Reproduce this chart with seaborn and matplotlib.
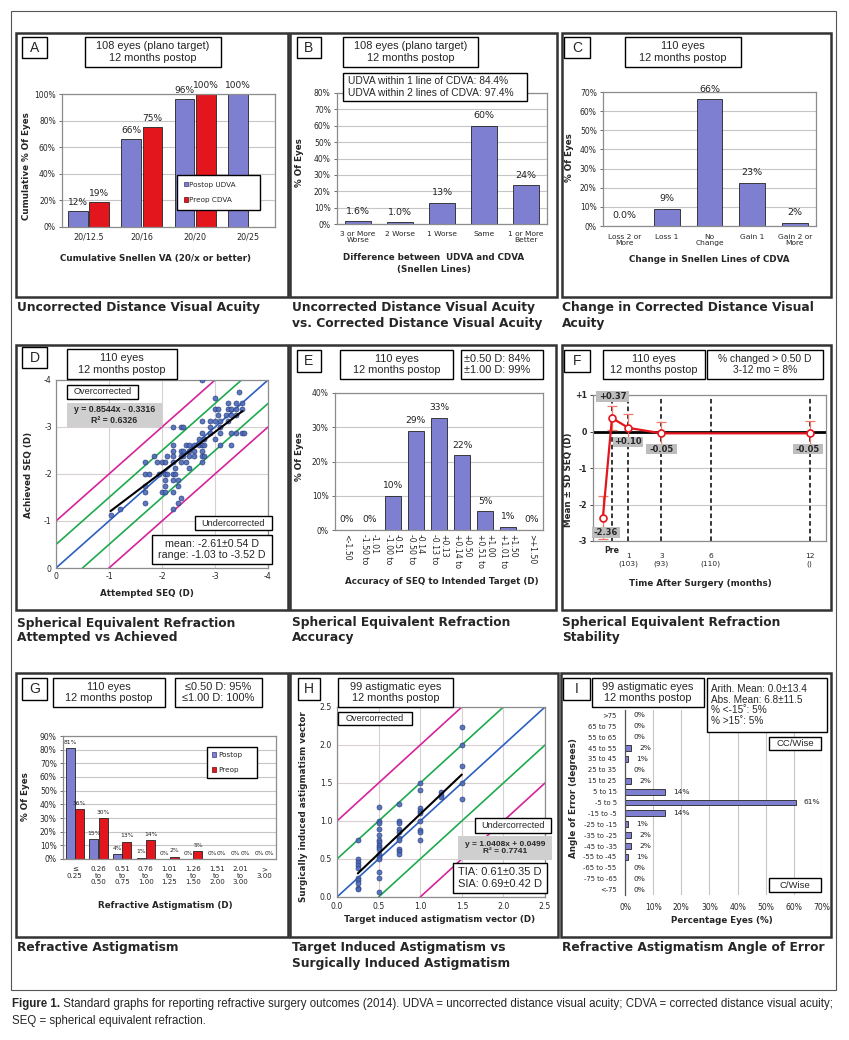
import matplotlib
matplotlib.use("Agg")
import matplotlib.pyplot as plt
import seaborn as sns
import numpy as np
import pandas as pd
from matplotlib.patches import Rectangle, Patch

# ---------------- data ----------------
a_cats = ["20/12.5", "20/16", "20/20", "20/25"]
a_udva = [12, 66, 96, 100]
a_cdva = [19, 75, 100, np.nan]
a_series = ["Postop UDVA", "Preop CDVA"]

b_cats = ["3 or More\nWorse", "2 Worse", "1 Worse", "Same", "1 or More\nBetter"]
b_vals = [1.6, 1.0, 12.8, 60.0, 23.6]
b_labels = ["1.6%", "1.0%", "13%", "60%", "24%"]

c_cats = ["Loss 2 or\nMore", "Loss 1", "No\nChange", "Gain 1", "Gain 2 or\nMore"]
c_vals = [0.0, 8.9, 66.3, 22.7, 1.7]
c_labels = ["0.0%", "9%", "66%", "23%", "2%"]

d_att = [-2.75,
         -3.45,
         -3.0,
         -3.25, -3.4, -3.5,
         -3.0, -3.05, -3.25, -3.3, -3.4, -3.5,
         -3.05, -3.2, -3.3, -3.4,
         -2.75, -2.9, -3.0, -3.1, -3.25,
         -2.2, -2.35, -2.4, -2.9, -3.1,
         -2.75, -2.9, -3.1, -3.3, -3.4, -3.5, -3.55,
         -2.7, -2.8, -3.0,
         -2.2, -2.45, -2.5, -2.6, -2.7, -2.75, -2.8, -3.1, -3.3,
         -2.2, -2.35, -2.4, -2.5, -2.6, -2.75,
         -1.85, -2.1, -2.2, -2.35, -2.4, -2.5, -2.6, -2.75, -2.8,
         -1.68, -1.9, -2.0, -2.05, -2.2, -2.35, -2.45, -2.75,
         -2.25, -2.5,
         -1.68, -1.75, -1.95, -2.05, -2.1, -2.2, -2.25,
         -2.05, -2.2, -2.3,
         -1.68, -2.05, -2.3,
         -1.68, -2.0, -2.05, -2.2,
         -2.35,
         -1.68, -2.3,
         -2.2, -1.2,
         -1.03]
d_ach = [-4.0,
         -3.75,
         -3.625,
         -3.5, -3.5, -3.5,
         -3.375, -3.375, -3.375, -3.375, -3.375, -3.375,
         -3.25, -3.25, -3.25, -3.25,
         -3.125, -3.125, -3.125, -3.125, -3.125,
         -3.0, -3.0, -3.0, -3.0, -3.0,
         -2.875, -2.875, -2.875, -2.875, -2.875, -2.875, -2.875,
         -2.75, -2.75, -2.75,
         -2.625, -2.625, -2.625, -2.625, -2.625, -2.625, -2.625, -2.625, -2.625,
         -2.5, -2.5, -2.5, -2.5, -2.5, -2.5,
         -2.375, -2.375, -2.375, -2.375, -2.375, -2.375, -2.375, -2.375, -2.375,
         -2.25, -2.25, -2.25, -2.25, -2.25, -2.25, -2.25, -2.25,
         -2.125, -2.125,
         -2.0, -2.0, -2.0, -2.0, -2.0, -2.0, -2.0,
         -1.875, -1.875, -1.875,
         -1.75, -1.75, -1.75,
         -1.625, -1.625, -1.625, -1.625,
         -1.5,
         -1.375, -1.375,
         -1.25, -1.25,
         -1.125]
d_fit = (0.8544, -0.3316)
d_fit_x = [-1.03, -3.52]
ref_offsets = [-1.0, -0.5, 0.0, 0.5, 1.0]

e_cats = ["<-1.50", "-1.50 to\n-1.01", "-1.00 to\n-0.51", "-0.50 to\n-0.14", "-0.13 to\n+0.13",
          "+0.14 to\n+0.50", "+0.51 to\n+1.00", "+1.01 to\n+1.50", ">+1.50"]
e_vals = [0, 0, 10.0, 29.0, 32.7, 21.8, 5.5, 0.9, 0]
e_labels = ["0%", "0%", "10%", "29%", "33%", "22%", "5%", "1%", "0%"]

f_x = [-0.55, 0, 1, 3, 12]
f_mean = [-2.36, 0.37, 0.10, -0.05, -0.05]
f_sd = [0.58, 0.33, 0.38, 0.31, 0.35]
f_tick_pos = [0, 1, 3, 6, 12]
f_tick_labels = ["Pre", "1\n(103)", "3\n(93)", "6\n(110)", "12\n()"]

g_cats = ["\u2264\n0.25", "0.26\nto\n0.50", "0.51\nto\n0.75", "0.76\nto\n1.00", "1.01\nto\n1.25",
          "1.26\nto\n1.50", "1.51\nto\n2.00", "2.01\nto\n3.00", ">\n3.00"]
g_postop = [81, 14.5, 3.6, 0.9, 0, 0, 0, 0, 0]
g_preop = [36.4, 30, 12.7, 13.6, 1.8, 5.5, 0, 0, 0]
g_postop_labels = ["81%", "15%", "4%", "1%", "0%", "0%", "0%", "0%", "0%"]
g_preop_labels = ["36%", "30%", "13%", "14%", "2%", "5%", "0%", "0%", "0%"]
g_series = ["Postop", "Preop"]

h_x = [0.25] * 10 + [0.5] * 16 + [0.75] * 10 + [1.0] * 9 + [1.25] * 3 + [1.5] * 5
h_y = [0.75, 0.5, 0.46, 0.42, 0.38, 0.25, 0.22, 0.18, 0.12, 0.1,
       1.19, 1.0, 0.98, 0.89, 0.81, 0.75, 0.72, 0.69, 0.66, 0.63, 0.57, 0.53, 0.5, 0.33, 0.25, 0.07,
       1.23, 1.0, 0.97, 0.9, 0.86, 0.78, 0.75, 0.63, 0.6, 0.56,
       1.5, 1.41, 1.17, 1.13, 1.1, 1.0, 0.88, 0.85, 0.75,
       1.38, 1.34, 1.31,
       2.24, 2.0, 1.72, 1.5, 1.29]
h_fit = (1.0408, 0.0499)
h_fit_x = [0.25, 1.5]

i_cats = [">75", "65 to 75", "55 to 65", "45 to 55", "35 to 45", "25 to 35", "15 to 25", "5 to 15",
          "-5 to 5", "-15 to -5", "-25 to -15", "-35 to -25", "-45 to -35", "-55 to -45",
          "-65 to -55", "-75 to -65", "<-75"]
i_vals = [0, 0, 0, 2.0, 1.0, 0, 2.0, 14.2, 60.6, 14.2, 1.0, 2.0, 2.0, 1.0, 0, 0, 0]

# ---------------- style ----------------
sns.set_style("white")
plt.rcParams["font.family"] = ["DejaVu Sans"]
plt.rcParams["axes.unicode_minus"] = False

ARIAL = ["Liberation Sans", "DejaVu Sans"]
BLUE = "#7F7FD2"
BLUE_EDGE = "#3b3b78"
RED = "#E3161E"
RED_EDGE = "#6b0a0a"
GRID = "#c6c6c6"
PT = "#4b69b5"
MAG = "#D6239B"
GRN = "#1DAA4E"
LBLUE = "#2B5FC1"
ref_colors = [MAG, GRN, LBLUE, GRN, MAG]
BAR_KW = dict(errorbar=None, saturation=1, edgecolor="#222222", linewidth=0.6)

W, H = 849, 1040
fig = plt.figure(figsize=(W / 100, H / 100), dpi=100)


def mkax(r):
    x0, y0, x1, y1 = r
    return fig.add_axes([x0 / W, 1 - y1 / H, (x1 - x0) / W, (y1 - y0) / H])


def frame(ax, color="#8c8c8c", lw=0.9):
    for s in ax.spines.values():
        s.set_visible(True)
        s.set_color(color)
        s.set_linewidth(lw)


def bar_axes(ax, ymax, step, fs=5.5):
    ax.set_ylim(0, ymax)
    ax.set_yticks(np.arange(0, ymax + 0.01, step))
    ax.yaxis.set_major_formatter(lambda v, p: f"{v:.0f}%")
    ax.grid(axis="y", color=GRID, lw=0.8)
    ax.grid(axis="x", visible=False)
    ax.set_axisbelow(True)
    frame(ax)
    ax.tick_params(axis="y", labelsize=fs, length=2.5, width=0.6, pad=2, left=True, color="#555555")
    ax.tick_params(axis="x", length=0)


def xlab(ax, r, text, yc, xc=None, fs=6.3):
    x0, y0, x1, y1 = r
    if xc is None:
        xc = (x0 + x1) / 2
    ax.set_xlabel(text, fontsize=fs, fontweight="bold", linespacing=1.3)
    ax.xaxis.label.set_va("center")
    ax.xaxis.set_label_coords((xc - x0) / (x1 - x0), (y1 - yc) / (y1 - y0))


def ylab(ax, r, text, xc, yc=None, fs=6.3):
    x0, y0, x1, y1 = r
    if yc is None:
        yc = (y0 + y1) / 2
    ax.set_ylabel(text, fontsize=fs, fontweight="bold")
    ax.yaxis.label.set_va("center")
    ax.yaxis.set_label_coords((xc - x0) / (x1 - x0), (y1 - yc) / (y1 - y0))


# ================= Panel A =================
rA = (62, 94, 275, 227)
ax = mkax(rA)
df_a = pd.DataFrame({"cat": a_cats * 2,
                     "series": [a_series[0]] * 4 + [a_series[1]] * 4,
                     "val": a_udva + a_cdva}).dropna()
sns.barplot(data=df_a, x="cat", y="val", hue="series", order=a_cats, hue_order=a_series,
            palette=[BLUE, RED], width=0.8, gap=0.08, legend=False, ax=ax, **BAR_KW)
bar_axes(ax, 100, 20)
for cont in ax.containers:
    ax.bar_label(cont, fmt="%.0f%%", padding=3, fontsize=6.5, color="#222222")
ax.set_xticks(range(len(a_cats)), labels=a_cats, fontsize=5.8)
ax.tick_params(axis="x", pad=4)
xlab(ax, rA, "Cumulative Snellen VA (20/x or better)", 259, xc=156)
ylab(ax, rA, "Cumulative % Of Eyes", 26, 166)
leg = ax.legend(handles=[Patch(fc=BLUE, ec=BLUE_EDGE, lw=0.5), Patch(fc=RED, ec=RED_EDGE, lw=0.5)],
                labels=a_series, loc="upper left", bbox_to_anchor=(0.54, 0.13, 0.39, 0.26),
                mode="expand", fontsize=5.2, frameon=True, fancybox=False, edgecolor="black",
                framealpha=1, handlelength=0.6, handleheight=0.6, handletextpad=0.2,
                labelspacing=1.3, borderpad=0.9, borderaxespad=0)
leg.get_frame().set_linewidth(1.0)

# ================= Panel B =================
rB = (337, 93, 547, 224)
ax = mkax(rB)
sns.barplot(x=b_cats, y=b_vals, color=BLUE, width=0.62, ax=ax, **BAR_KW)
bar_axes(ax, 80, 10)
ax.bar_label(ax.containers[0], labels=b_labels, padding=4, fontsize=6.8, color="#222222")
ax.set_xticks(range(len(b_cats)), labels=b_cats, fontsize=5.4, linespacing=1.1)
ax.tick_params(axis="x", pad=5)
xlab(ax, rB, "Difference between  UDVA and CDVA\n(Snellen Lines)", 263.5, xc=434)
ylab(ax, rB, "% Of Eyes", 300, 163)

# ================= Panel C =================
rC = (603, 92, 816, 226)
ax = mkax(rC)
sns.barplot(x=c_cats, y=c_vals, color=BLUE, width=0.61, ax=ax, **BAR_KW)
bar_axes(ax, 70, 10)
ax.bar_label(ax.containers[0], labels=c_labels, padding=4, fontsize=6.8, color="#222222")
ax.set_xticks(range(len(c_cats)), labels=c_cats, fontsize=5.4, linespacing=1.1)
ax.tick_params(axis="x", pad=5.5)
xlab(ax, rC, "Change in Snellen Lines of CDVA", 260, xc=709)
ylab(ax, rC, "% Of Eyes", 570, 158)

# ================= Panel D =================
rD = (56, 380, 268, 568)
ax = mkax(rD)
ax.set_xlim(0, -4)
ax.set_ylim(0, -4)
for off, col in zip(ref_offsets, ref_colors):
    ax.axline((0, off), slope=1, color=col, lw=1.2, zorder=2)
sns.scatterplot(x=d_att, y=d_ach, s=13, color=PT, edgecolor="#2a3f80", linewidth=0.5,
                alpha=0.9, zorder=3, legend=False, ax=ax)
d_fit_y = [d_fit[0] * v + d_fit[1] for v in d_fit_x]
sns.lineplot(x=d_fit_x, y=d_fit_y, color="black", lw=1.5, zorder=4, ax=ax)
ax.set_xlim(0, -4)
ax.set_ylim(0, -4)
ax.set_xticks([0, -1, -2, -3, -4])
ax.set_yticks([0, -1, -2, -3, -4])
ax.xaxis.set_major_formatter(lambda v, p: f"{v:.0f}")
ax.yaxis.set_major_formatter(lambda v, p: f"{v:.0f}")
ax.grid(True, color="#d8d0d0", lw=0.8)
ax.set_axisbelow(True)
frame(ax)
ax.tick_params(labelsize=5.6, length=0, pad=3)
xlab(ax, rD, "Attempted SEQ (D)", 593, xc=147)
ylab(ax, rD, "Achieved SEQ (D)", 29, 475)

# ================= Panel E =================
rE = (335, 393, 543, 530)
ax = mkax(rE)
sns.barplot(x=e_cats, y=e_vals, color=BLUE, width=0.69, ax=ax, **BAR_KW)
bar_axes(ax, 40, 10)
ax.bar_label(ax.containers[0], labels=e_labels, padding=4, fontsize=6.6, color="#222222")
ax.set_xticks(range(len(e_cats)),
              labels=["\n".join(c.split("\n")[::-1]) for c in e_cats],
              rotation=-90, fontsize=5.6, linespacing=1.05, ha="center", va="top")
for t in ax.get_xticklabels():
    t.set_multialignment("left")
ax.tick_params(axis="x", pad=3)
xlab(ax, rE, "Accuracy of SEQ to Intended Target (D)", 582, xc=442)
ylab(ax, rE, "% Of Eyes", 299, 457)

# ================= Panel F =================
rF = (593, 395, 826, 541)
ax = mkax(rF)
ax.set_xlim(-1.15, 13.0)
ax.set_ylim(-3, 1)
for xv in f_tick_pos:
    ax.axvline(xv, color="black", lw=1.1, ls=(0, (3, 2)), zorder=1)
ax.axhline(0, color="black", lw=2.0, zorder=2)
ax.errorbar(f_x, f_mean, yerr=f_sd, fmt="none", ecolor="#F07A6A", elinewidth=0.9,
            capsize=3.5, capthick=0.9, zorder=3)
sns.lineplot(x=f_x, y=f_mean, color=RED, lw=1.6, marker="o", markersize=5,
             markerfacecolor="white", markeredgecolor=RED, markeredgewidth=1.2, zorder=4, ax=ax)
ax.set_xlim(-1.15, 13.0)
ax.set_ylim(-3, 1)
ax.set_yticks([-3, -2, -1, 0, 1])
ax.set_yticklabels(["-3", "-2", "-1", "0", "+1"], fontweight="bold")
ax.grid(axis="y", color=GRID, lw=0.8)
ax.grid(axis="x", visible=False)
ax.set_axisbelow(True)
frame(ax)
ax.tick_params(axis="y", labelsize=5.6, length=2.5, width=0.6, left=True, pad=2)
ax.set_xticks(f_tick_pos[1:], labels=f_tick_labels[1:], fontsize=5.4, linespacing=1.2)
ax.tick_params(axis="x", length=0, pad=9)
ax.text(f_tick_pos[0], -0.035, f_tick_labels[0], transform=ax.get_xaxis_transform(),
        ha="center", va="top", fontsize=5.6, fontweight="bold")
xlab(ax, rF, "Time After Surgery (months)", 584, xc=700)
ylab(ax, rF, "Mean \u00b1 SD SEQ (D)", 569, 480)

# ================= Panel G =================
rG = (63, 736, 276, 859)
ax = mkax(rG)
df_g = pd.DataFrame({"cat": g_cats * 2,
                     "series": [g_series[0]] * len(g_cats) + [g_series[1]] * len(g_cats),
                     "val": g_postop + g_preop})
sns.barplot(data=df_g, x="cat", y="val", hue="series", order=g_cats, hue_order=g_series,
            palette=[BLUE, RED], width=0.8, gap=0.06, legend=False, ax=ax, **BAR_KW)
bar_axes(ax, 90, 10)
for cont, labs in zip(ax.containers, [g_postop_labels, g_preop_labels]):
    texts = ax.bar_label(cont, labels=labs, padding=2.5, fontsize=4.3, color="#222222")
    for t in texts:
        t.set_clip_on(True)
ax.set_xticks(range(len(g_cats)), labels=g_cats, fontsize=5.1, linespacing=1.15)
ax.tick_params(axis="x", pad=5)
xlab(ax, rG, "Refractive Astigmatism (D)", 905, xc=165)
ylab(ax, rG, "% Of Eyes", 26, 797)
leg = ax.legend(handles=[Patch(fc=BLUE, ec=BLUE_EDGE, lw=0.5), Patch(fc=RED, ec=RED_EDGE, lw=0.5)],
                labels=g_series, loc="upper left", bbox_to_anchor=(0.676, 0.66, 0.235, 0.25),
                mode="expand", fontsize=5.2, frameon=True, fancybox=False, edgecolor="black",
                framealpha=1, handlelength=0.6, handleheight=0.6, handletextpad=0.2,
                labelspacing=1.2, borderpad=0.7, borderaxespad=0)
leg.get_frame().set_linewidth(1.0)

# ================= Panel H =================
rH = (337, 707, 545, 897)
ax = mkax(rH)
ax.set_xlim(0, 2.5)
ax.set_ylim(0, 2.5)
for off, col in zip(ref_offsets, ref_colors[::-1]):
    ax.axline((0, off), slope=1, color=col, lw=1.2, zorder=2)
sns.scatterplot(x=h_x, y=h_y, s=13, color=PT, edgecolor="#2a3f80", linewidth=0.5,
                alpha=0.9, zorder=3, legend=False, ax=ax)
h_fit_y = [h_fit[0] * v + h_fit[1] for v in h_fit_x]
sns.lineplot(x=h_fit_x, y=h_fit_y, color="black", lw=1.5, zorder=4, ax=ax)
ax.set_xlim(0, 2.5)
ax.set_ylim(0, 2.5)
ax.set_xticks(np.arange(0, 2.51, 0.5))
ax.set_yticks(np.arange(0, 2.51, 0.5))
ax.xaxis.set_major_formatter(lambda v, p: f"{v:.1f}")
ax.yaxis.set_major_formatter(lambda v, p: f"{v:.1f}")
ax.grid(True, color="#d8d0d0", lw=0.8)
ax.set_axisbelow(True)
frame(ax)
ax.tick_params(labelsize=5.6, length=0, pad=3.5)
xlab(ax, rH, "Target induced astigmatism vector (D)", 920, xc=440)
ylab(ax, rH, "Surgically induced astigmatism vector", 304, 807)

# ================= Panel I =================
rI = (625, 710, 822, 895)
ax = mkax(rI)
sns.barplot(x=i_vals, y=i_cats, orient="h", color=BLUE, width=0.55, ax=ax, **BAR_KW)
ax.set_xlim(0, 70)
ax.set_xticks(np.arange(0, 70.1, 10))
ax.xaxis.set_major_formatter(lambda v, p: f"{v:.0f}%")
ax.grid(axis="x", color=GRID, lw=0.8)
ax.grid(axis="y", visible=False)
ax.set_axisbelow(True)
for s in ax.spines.values():
    s.set_visible(False)
ax.spines["left"].set_visible(True)
ax.spines["left"].set_color("#555555")
ax.spines["left"].set_linewidth(0.9)
ax.bar_label(ax.containers[0], fmt="%.0f%%", padding=6, fontsize=5.4, color="#222222")
ax.tick_params(axis="y", labelsize=4.9, length=0, pad=6)
ax.tick_params(axis="x", labelsize=5.5, length=0, pad=6)
xlab(ax, rI, "Percentage Eyes (%)", 920, xc=722)
ylab(ax, rI, "Angle of Error (degrees)", 573, 798)

# ================= overlay (boxes, titles, caption) =================
ov = fig.add_axes([0, 0, 1, 1], zorder=10)
ov.set_xlim(0, W)
ov.set_ylim(H, 0)
ov.axis("off")
ov.patch.set_alpha(0)


def box(x0, y0, x1, y1, fc="white", ec="black", lw=1.0):
    ov.add_patch(Rectangle((x0, y0), x1 - x0, y1 - y0, fc=fc, ec=ec, lw=lw))


def btext(r, s, fs=8.0, weight="normal", fc="white", ec="black", lw=1.0, ha="center",
          family=ARIAL, ls=1.15, pad=4):
    x0, y0, x1, y1 = r
    if fc is not None or ec is not None:
        box(x0, y0, x1, y1, fc=fc if fc else "none", ec=ec if ec else "none", lw=lw)
    x = (x0 + x1) / 2 if ha == "center" else x0 + pad
    ov.text(x, (y0 + y1) / 2, s, ha=ha, va="center", fontsize=fs, fontweight=weight,
            family=family, linespacing=ls, multialignment=ha)


# outer frame
box(11, 11, 836, 990, fc="none", ec="#555555", lw=0.8)

# panel frames
for r in [(16, 33, 288, 297), (290, 33, 557, 297), (562, 33, 831, 297),
          (16, 345, 288, 610), (290, 345, 556, 610), (562, 345, 831, 610),
          (16, 673, 288, 937), (290, 673, 558, 937), (561, 673, 831, 937)]:
    box(*r, fc="none", ec="#333333", lw=1.8)

# letter boxes
for r, s in [((22, 37, 47, 58), "A"), ((297, 37, 321, 58), "B"), ((564, 37, 590, 58), "C"),
             ((22, 347, 47, 368), "D"), ((297, 350, 321, 372), "E"), ((564, 350, 590, 372), "F"),
             ((22, 678, 47, 700), "G"), ((298, 678, 320, 700), "H"), ((563, 678, 590, 700), "I")]:
    btext(r, s, fs=10)

hdr108 = "108 eyes (plano target)\n12 months postop"
hdr110 = "110 eyes\n12 months postop"
hdr99 = "99 astigmatic eyes\n12 months postop"
for r, s in [((85, 37, 221, 67), hdr108), ((343, 37, 478, 67), hdr108), ((625, 37, 741, 67), hdr110),
             ((67, 349, 177, 379), hdr110), ((340, 350, 453, 379), hdr110), ((603, 350, 705, 379), hdr110),
             ((53, 678, 165, 707), hdr110), ((338, 678, 453, 707), hdr99), ((592, 678, 704, 707), hdr99)]:
    btext(r, s, fs=7.9)

# stats boxes
btext((343, 73, 527, 101), "UDVA within 1 line of CDVA: 84.4%\nUDVA within 2 lines of CDVA: 97.4%",
      fs=7.4, ha="left", pad=5)
btext((461, 350, 543, 379), "\u00b10.50 D: 84%\n\u00b11.00 D: 99%", fs=7.9, ha="left", pad=3)
btext((707, 350, 823, 379), "% changed > 0.50 D\n3-12 mo = 8%", fs=7.4)
btext((175, 678, 262, 707), "\u22640.50 D: 95%\n\u22641.00 D: 100%", fs=7.9)
btext((707, 678, 827, 732), "Arith. Mean: 0.0\u00b113.4\nAbs. Mean: 6.8\u00b111.5\n% <-15\u02da: 5%\n% >15\u02da: 5%",
      fs=7.2, ha="left", pad=4, ls=1.1)

# D annotations
btext((67, 385, 138, 399), "Overcorrected", fs=6.6)
btext((67, 403, 162, 427), "y = 0.8544x - 0.3316\nR\u00b2 = 0.6326", fs=6.3, weight="bold",
      fc="#cfcfcf", ec=None)
btext((195, 516, 272, 530), "Undercorrected", fs=6.6)
btext((152, 535, 272, 564), "mean: -2.61\u00b10.54 D\nrange: -1.03 to -3.52 D", fs=7.7)

# H annotations
btext((338, 712, 412, 725), "Overcorrected", fs=6.6)
btext((475, 818, 551, 833), "Undercorrected", fs=6.6)
btext((458, 836, 552, 860), "y = 1.0408x + 0.0499\nR\u00b2 = 0.7741", fs=6.0, weight="bold",
      fc="#cfcfcf", ec=None)
btext((453, 863, 547, 893), "TIA: 0.61\u00b10.35 D\nSIA: 0.69\u00b10.42 D", fs=8.0)

# I annotations
btext((769, 737, 821, 750), "CC/Wise", fs=6.8)
btext((769, 878, 821, 892), "C/Wise", fs=6.8)

# F value labels
for r, v in zip([(592, 527, 620, 538), (596, 391, 629, 402), (613, 437, 643, 447),
                 (646, 444, 677, 454), (793, 444, 823, 454)], f_mean):
    btext(r, f"{v:+.2f}", fs=6.0, weight="bold", fc="#bdbdbd", ec=None, family=["DejaVu Sans"])

# panel titles
TF = dict(fontsize=8.8, fontweight="bold", va="center", ha="left", linespacing=1.2)
for x, y, s in [(17, 308, "Uncorrected Distance Visual Acuity"),
                (292, 315.5, "Uncorrected Distance Visual Acuity\nvs. Corrected Distance Visual Acuity"),
                (562, 315.5, "Change in Corrected Distance Visual\nAcuity"),
                (17, 630.5, "Spherical Equivalent Refraction\nAttempted vs Achieved"),
                (292, 630, "Spherical Equivalent Refraction\nAccuracy"),
                (562, 630, "Spherical Equivalent Refraction\nStability"),
                (17, 948, "Refractive Astigmatism"),
                (292, 955.5, "Target Induced Astigmatism vs\nSurgically Induced Astigmatism"),
                (562, 948, "Refractive Astigmatism Angle of Error")]:
    ov.text(x, y, s, **TF)

# caption
CAP = ["Liberation Sans Narrow", "Liberation Sans", "DejaVu Sans"]
t1 = ov.text(12, 1004, "Figure 1.", fontsize=8, fontweight="bold", family=CAP, va="center", ha="left")
t2 = ov.text(60, 1004, " Standard graphs for reporting refractive surgery outcomes (2014). UDVA = uncorrected "
             "distance visual acuity; CDVA = corrected distance visual acuity;",
             fontsize=8, family=CAP, va="center", ha="left")
t3 = ov.text(12, 1021, "SEQ = spherical equivalent refraction.", fontsize=8, family=CAP,
             va="center", ha="left")
fig.canvas.draw()
rend = fig.canvas.get_renderer()
wtot = t1.get_window_extent(rend).width + t2.get_window_extent(rend).width
scale = 826.0 / wtot
for t in (t1, t2, t3):
    t.set_fontsize(8 * scale)
fig.canvas.draw()
t2.set_x(12 + t1.get_window_extent(rend).width)

fig.savefig("out.png", dpi=100)
